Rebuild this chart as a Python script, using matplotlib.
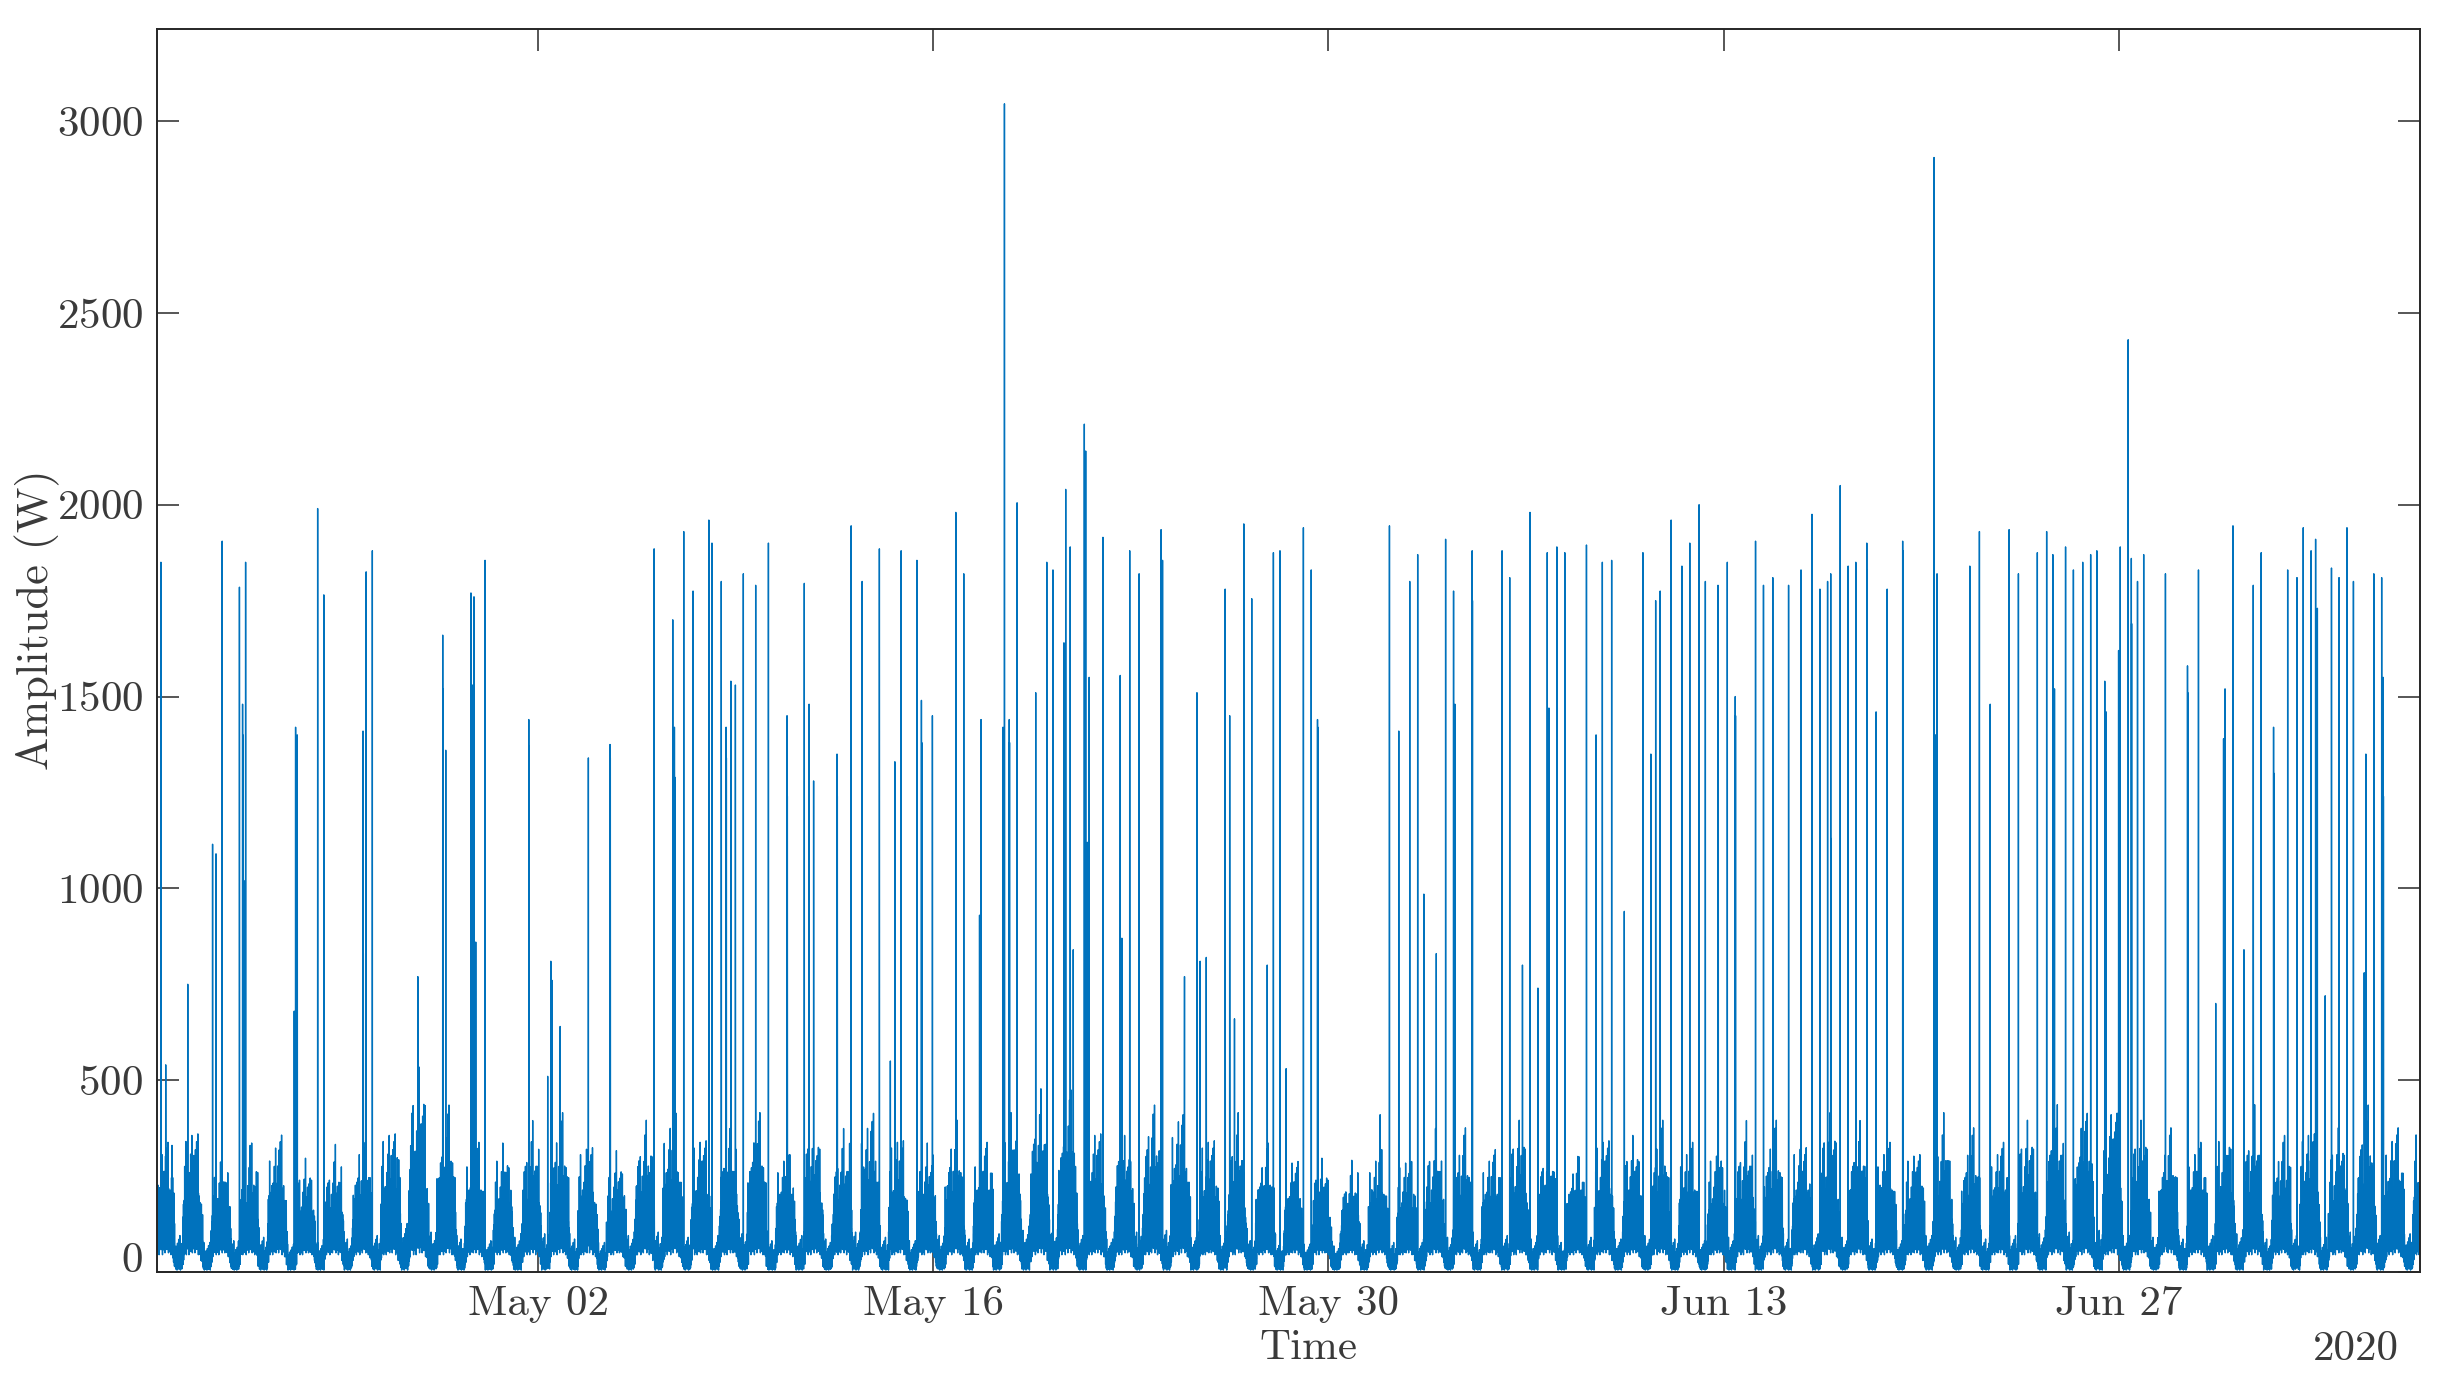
import numpy as np
import pandas as pd
import matplotlib
matplotlib.use("Agg")
import matplotlib.pyplot as plt
import matplotlib.dates as mdates

plt.rcParams.update({
    "font.family": ["cmr10"],
    "mathtext.fontset": "cm",
    "axes.formatter.use_mathtext": True,
    "axes.unicode_minus": False,
})

# time span of the recording (5 minute samples)
start = pd.Timestamp("2020-04-18 12:00")
n_days = 80.15
per_day = 288

# typical busy level (W) and floor (W) for each hour of the day
hour_level = [170, 150, 110, 50, 50, 50, 50, 50, 50, 55, 120, 170,
              190, 180, 170, 180, 190, 200, 220, 230, 220, 210, 200, 180]
hour_floor = [40, 30, 15, 5, 5, 5, 5, 5, 5, 5, 20, 40,
              45, 45, 45, 45, 45, 50, 50, 50, 50, 50, 45, 45]

# short-term fluctuation
texture = [0.35, 0.9, 0.2, 0.55, 1.0, 0.15, 0.7, 0.4, 0.85, 0.05, 0.6, 1.25,
           0.3, 0.75, 0.1, 0.5, 0.95, 0.25, 0.65, 0.45, 1.1, 0.0, 0.8, 0.35,
           0.6, 0.2, 1.4, 0.5, 0.1, 0.9, 0.3, 0.7, 0.55, 0.15, 1.0, 0.4, 0.8,
           0.25, 1.6, 0.45, 0.05, 0.7, 0.35, 0.95, 0.2, 0.6, 1.15, 0.1, 0.5,
           0.85, 0.3, 1.8, 0.4, 0.15, 0.75, 0.55, 0.0, 1.05, 0.35, 0.65, 0.2]

# relative activity per calendar day (Apr 18 .. Jul 07)
day_scale = [1.0, 1.1, 0.9, 0.95, 1.05, 0.85, 0.9, 1.0, 1.1, 1.45,
             1.2, 1.0, 0.95, 1.05, 1.15, 1.0, 0.9, 1.1, 1.2, 1.05,
             1.0, 1.15, 0.95, 1.1, 1.0, 1.2, 1.05, 0.95, 1.1, 1.0,
             1.15, 1.25, 1.3, 1.1, 1.0, 1.2, 1.25, 1.05, 1.1, 0.95,
             0.9, 0.85, 0.8, 0.95, 0.9, 1.0, 1.05, 0.95, 1.1, 1.0,
             0.9, 1.05, 1.0, 1.1, 1.0, 0.95, 1.05, 1.1, 1.0, 1.15,
             1.05, 1.0, 0.95, 1.1, 1.05, 1.0, 1.1, 1.15, 1.2, 1.25,
             1.1, 1.05, 1.0, 1.1, 1.15, 1.0, 1.1, 1.05, 1.2, 1.1,
             1.15]

# appliance spikes: days after start, peak amplitude (W)
spike_day = [0.14, 0.31, 0.53, 1.09, 1.97, 2.09, 2.31, 2.92, 3.03, 3.04, 3.08, 3.14, 3.30,
             4.86, 4.91, 4.97, 5.69, 5.91, 5.92, 7.30, 7.31, 7.41, 7.63, 9.24, 10.12, 10.13,
             10.23, 11.12, 11.18, 11.23, 11.29, 11.62, 13.17, 13.18, 13.84, 13.95, 14.00, 14.28,
             15.28, 16.05, 16.06, 17.61, 18.27, 18.33, 18.34, 18.66, 18.99, 19.55, 19.66, 19.99,
             20.16, 20.17, 20.33, 20.34, 20.49, 20.77, 21.21, 21.66, 22.32, 22.33, 22.93, 23.10,
             23.26, 24.09, 24.10, 24.59, 24.98, 25.59, 25.98, 26.14, 26.36, 26.92, 27.08, 27.09,
             27.47, 28.30, 28.58, 29.14, 29.19, 29.97, 30.02, 30.19, 30.20, 30.47, 31.13, 31.52,
             31.74, 32.13, 32.19, 32.35, 32.46, 32.85, 32.90, 32.96, 33.02, 33.51, 34.12, 34.18,
             34.46, 34.79, 35.57, 35.62, 36.40, 36.84, 36.95, 37.17, 37.84, 38.00, 38.17, 38.50,
             38.78, 39.33, 39.55, 39.78, 40.00, 40.61, 40.89, 41.11, 41.12, 43.33, 43.66, 43.99,
             44.38, 44.66, 44.88, 44.89, 45.32, 45.65, 45.93, 45.98, 45.99, 46.59, 46.60, 47.65,
             47.92, 48.37, 48.64, 48.92, 49.25, 49.31, 49.59, 49.87, 50.64, 50.98, 51.20, 51.53,
             51.98, 52.64, 52.92, 53.09, 53.25, 53.64, 54.02, 54.30, 54.63, 54.85, 55.30, 55.31,
             55.63, 55.91, 55.92, 56.63, 56.91, 57.24, 57.80, 58.24, 58.63, 58.91, 58.92, 59.18,
             59.29, 59.30, 59.63, 59.91, 60.18, 60.19, 60.57, 60.58, 60.90, 61.29, 61.84, 61.85,
             62.95, 63.00, 63.06, 64.22, 64.56, 64.94, 65.61, 65.94, 66.61, 66.94, 67.16, 67.22,
             67.61, 67.89, 68.22, 68.50, 68.72, 69.00, 69.05, 69.49, 69.55, 69.83, 69.94, 69.95,
             70.16, 70.38, 71.15, 71.93, 71.94, 72.32, 72.93, 73.21, 73.26, 73.54, 73.93, 74.26,
             74.54, 74.98, 74.99, 75.48, 75.81, 76.03, 76.31, 76.47, 76.53, 76.81, 77.03, 77.30,
             77.58, 77.81, 78.19, 78.25, 78.53, 78.81, 78.86, 78.87]
spike_w = [1850, 540, 330, 750, 1115, 1090, 1905, 1785, 1480, 1400, 1020, 1850, 330,
           680, 1420, 1400, 1990, 1765, 1640, 1410, 830, 1825, 1880, 770, 1660, 1520,
           1360, 1770, 1530, 1760, 860, 1855, 1440, 1370, 510, 810, 760, 640,
           1340, 1375, 1340, 1885, 1700, 1420, 1290, 1930, 1775, 1960, 1900, 1800,
           1420, 1340, 1540, 1510, 1530, 1820, 1790, 1900, 1450, 1240, 1795, 1480,
           1280, 1350, 1240, 1945, 1800, 1885, 550, 1330, 1880, 1855, 1490, 1380,
           1450, 1980, 1820, 930, 1440, 1420, 3045, 1440, 1380, 2005, 1510, 1850,
           1830, 1640, 2040, 1890, 840, 2210, 2140, 1120, 1550, 1915, 1555, 870,
           1880, 1820, 1935, 1855, 770, 1510, 810, 820, 1780, 1450, 660, 1950,
           1755, 800, 1875, 1880, 530, 1940, 1830, 1440, 1420, 410, 1945, 1410,
           1800, 1870, 985, 670, 830, 1910, 1775, 1480, 1300, 1880, 1750, 1880,
           1810, 800, 1980, 740, 1875, 1470, 1890, 1875, 1895, 1400, 1850, 1855,
           940, 1875, 1350, 1750, 1775, 1960, 1840, 1900, 2000, 1800, 1790, 1560,
           1850, 1500, 1450, 1905, 1790, 1810, 1790, 1830, 1975, 1780, 1510, 1800,
           1820, 1130, 2050, 1840, 1850, 1590, 1900, 1830, 1460, 1780, 1905, 1880,
           2905, 1400, 1820, 1840, 1930, 1480, 1935, 1820, 1875, 1930, 1870, 1520,
           1890, 1830, 1850, 1870, 1880, 1540, 1460, 1620, 1890, 2430, 1860, 1690,
           1800, 1870, 1820, 1580, 1510, 1830, 700, 1390, 1520, 1945, 840, 1790,
           1875, 1420, 1300, 1830, 1810, 1940, 1880, 1910, 1730, 720, 1835, 1810,
           1940, 1800, 780, 1350, 1820, 1810, 1550, 1240]

x_ticks = ["2020-05-02", "2020-05-16", "2020-05-30", "2020-06-13", "2020-06-27"]
y_ticks = [0, 500, 1000, 1500, 2000, 2500, 3000]

# build the series
t = pd.date_range(start, start + pd.Timedelta(days=n_days), freq="5min")
hours = t.hour.values
day_idx = np.minimum((t.normalize() - start.normalize()).days.values, len(day_scale) - 1)
k = np.arange(len(t))
tex = np.array(texture)[k % len(texture)]
lvl = np.array(hour_level, float)[hours] * np.array(day_scale)[day_idx]
flr = np.array(hour_floor, float)[hours]
power = flr + (lvl - flr) * tex

idx = np.clip(np.round(np.array(spike_day) * per_day).astype(int), 0, len(t) - 1)
power[idx] = np.maximum(power[idx], np.array(spike_w, float))

txt = "#3a3a3a"
fig = plt.figure(figsize=(2453 / 200, 1388 / 200), dpi=200)
ax = fig.add_axes([157 / 2453, 1 - 1272 / 1388, 2262.5 / 2453, 1243 / 1388])
ax.plot(t, power, color="#0072BD", lw=0.5)

ax.set_xlim(t[0], t[-1])
ax.set_ylim(0, 3240)
ax.set_xticks(pd.to_datetime(x_ticks))
ax.xaxis.set_major_formatter(mdates.DateFormatter("%b %d"))
ax.set_yticks(y_ticks)
ax.tick_params(direction="in", length=8, width=0.6, top=True, right=True,
               labelsize=15.5, colors=txt, pad=5)
for s in ax.spines.values():
    s.set_color("#262626")
    s.set_linewidth(0.7)

ax.set_xlabel("Time", fontsize=15.5, color=txt, va="top")
ax.xaxis.set_label_coords((1308.6 - 157) / 2262.5, -0.046)
ax.set_ylabel("Amplitude (W)", fontsize=16, color=txt)
ax.yaxis.set_label_coords(-0.043, 0.5245)
ax.text(0.991, -0.047, "2020", transform=ax.transAxes, ha="right", va="top",
        fontsize=15.5, color=txt)
ax.get_yticklabels()[0].set_va("baseline")

fig.savefig("out.png", dpi=200)
